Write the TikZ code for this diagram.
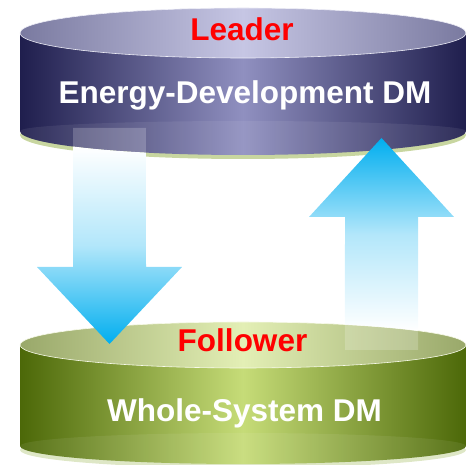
\documentclass[tikz,border=0pt]{standalone}
\usepackage{fontspec}
\setmainfont{Liberation Sans}
\definecolor{navyD}{HTML}{1F1E4D}
\definecolor{navyL}{HTML}{9090C0}
\definecolor{navyTopD}{HTML}{7A7AA0}
\definecolor{navyTopL}{HTML}{C6C6E4}
\definecolor{oliveD}{HTML}{4C6808}
\definecolor{oliveL}{HTML}{C6DC78}
\definecolor{oliveTopD}{HTML}{99A86A}
\definecolor{oliveTopL}{HTML}{E3EFB5}
\definecolor{shadowG}{HTML}{C8D6A0}
\definecolor{arrowC}{HTML}{00AEEF}
\definecolor{lblred}{HTML}{FF0000}
\tikzset{
  lbltitle/.style={text=lblred, font=\fontsize{31.5}{36}\selectfont\bfseries, inner sep=0pt, anchor=base},
  lblname/.style={text=white, font=\fontsize{31.5}{36}\selectfont\bfseries, inner sep=0pt, anchor=base},
  bigarrow down/.style={top color=white, bottom color=arrowC, middle color=arrowC!30},
  bigarrow up/.style={top color=arrowC, bottom color=white, middle color=arrowC!30},
  ghost/.style={fill=white, fill opacity=0.2},
  bevel/.style={fill=white, fill opacity=0.07},
}
\begin{document}
\begin{tikzpicture}[x=1pt,y=1pt]
\useasboundingbox (0,0) rectangle (467,465);

% ---------- bottom cylinder (Follower) ----------
\fill[shadowG!60] (243,15) ellipse [x radius=223, y radius=18];
\shade[left color=oliveD, right color=oliveD, middle color=oliveL]
  (20,120) -- (20,19) arc[start angle=180, end angle=360, x radius=223, y radius=18] -- (466,120) -- cycle;
\fill[bevel] (20,19) arc[start angle=180, end angle=0, x radius=223, y radius=13]
  arc[start angle=0, end angle=-180, x radius=223, y radius=18] -- cycle;
\shade[left color=oliveTopD, right color=oliveTopD, middle color=oliveTopL, draw=white!70!oliveTopL, line width=0.6]
  (243,120) ellipse [x radius=223, y radius=23];

% ---------- top cylinder (Leader) ----------
\fill[shadowG] (243,330) ellipse [x radius=223, y radius=24];
\shade[left color=navyD, right color=navyD, middle color=navyL]
  (20,432) -- (20,334) arc[start angle=180, end angle=360, x radius=223, y radius=24] -- (466,432) -- cycle;
\fill[bevel] (20,334) arc[start angle=180, end angle=0, x radius=223, y radius=10]
  arc[start angle=0, end angle=-180, x radius=223, y radius=24] -- cycle;
\shade[left color=navyTopD, right color=navyTopD, middle color=navyTopL, draw=white!70!navyTopL, line width=0.6]
  (243,432) ellipse [x radius=223, y radius=25];

% ---------- down arrow (Leader -> Follower) ----------
\fill[ghost] (73,337) -- (146,337) -- ([shift={(243,334)}]244.21:223 and 24)
  arc[start angle=244.21, end angle=220.33, x radius=223, y radius=24] -- cycle;
\shade[bigarrow down] ([shift={(243,334)}]220.33:223 and 24)
  arc[start angle=220.33, end angle=244.21, x radius=223, y radius=24]
  -- (146,198) -- (182,198) -- (109.5,121) -- (37,198) -- (73,198) -- cycle;

% ---------- up arrow (Follower -> Leader) ----------
\fill[ghost] (345,115) -- (418,115) -- ([shift={(243,120)}]38.29:223 and 23)
  arc[start angle=38.29, end angle=62.78, x radius=223, y radius=23] -- cycle;
\shade[bigarrow up] ([shift={(243,120)}]62.78:223 and 23)
  arc[start angle=62.78, end angle=38.29, x radius=223, y radius=23]
  -- (418,248) -- (454,248) -- (381.5,327) -- (309,248) -- (345,248) -- cycle;

% ---------- labels ----------
\node[lbltitle] (leader) at (242,424) {Leader};
\node[lblname] (energy) at (245,361) {Energy-Development DM};
\node[lbltitle] (follower) at (242.5,113) {Follower};
\node[lblname] (whole) at (244.5,43) {Whole-System DM};
\end{tikzpicture}
\end{document}
